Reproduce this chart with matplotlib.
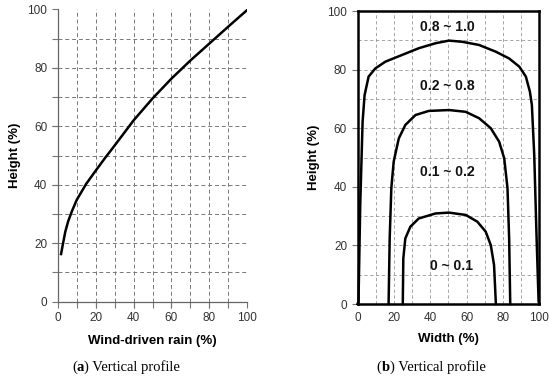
import matplotlib
matplotlib.use("Agg")
import matplotlib.pyplot as plt

# (a) wind-driven rain vertical profile
rain_x = [1.75, 2.8, 4.0, 5.5, 7.5, 10.0, 15.0, 20.0, 25.0, 30.0, 40.0, 50.0, 60.0, 70.0, 80.0, 90.0, 100.0]
rain_h = [16.3, 20.0, 24.0, 27.5, 31.0, 34.8, 40.3, 44.8, 49.2, 53.4, 62.0, 69.5, 76.3, 82.5, 88.3, 94.1, 99.8]

# (b) contour boundaries
outer_x = [0.0, 0.55, 1.5, 2.8, 3.9, 6.1, 9.8, 15.3, 24.5, 33.7, 42.9, 50.3, 57.6, 66.9, 76.1, 83.4,
           89.0, 92.6, 94.8, 95.9, 97.2, 98.5, 99.6, 100.0]
outer_y = [0.0, 0.8, 33.8, 62.2, 71.3, 77.6, 80.4, 82.7, 85.0, 87.3, 89.0, 89.9, 89.5, 88.4, 86.1, 83.8,
           81.0, 77.6, 72.5, 67.9, 50.9, 22.4, 0.8, 0.0]
mid_x = [17.1, 17.7, 18.6, 19.9, 22.7, 26.3, 31.9, 39.2, 50.3, 59.5, 66.9, 73.3, 77.9, 80.7, 82.5, 83.4, 84.0]
mid_y = [0.0, 22.4, 39.5, 48.6, 56.5, 61.1, 64.5, 65.9, 66.2, 65.6, 63.4, 60.0, 55.4, 49.7, 39.5, 22.4, 0.0]
inner_x = [24.9, 25.2, 26.3, 29.1, 33.7, 42.9, 50.3, 59.5, 65.9, 70.5, 73.3, 75.1, 76.1]
inner_y = [0.0, 15.6, 22.4, 26.4, 29.2, 30.9, 31.2, 30.4, 28.1, 24.7, 20.1, 13.3, 0.0]
zone_labels = ["0.8 ~ 1.0", "0.2 ~ 0.8", "0.1 ~ 0.2", "0 ~ 0.1"]
zone_pos = [(49.5, 94.6), (49.5, 74.4), (49.5, 45.0), (51.5, 13.0)]

ticks = [0, 20, 40, 60, 80, 100]
minor = list(range(10, 100, 10))

plt.rcParams['font.family'] = ['Liberation Sans', 'DejaVu Sans']
fig = plt.figure(figsize=(5.5, 3.77), dpi=100)

tick_col = '#333333'
grid_col = '#777777'

def setup(ax, spine_col, spine_w, gcol, gw):
    ax.set_xlim(0, 100)
    ax.set_ylim(0, 100)
    ax.xaxis.remove_overlapping_locs = False
    ax.yaxis.remove_overlapping_locs = False
    ax.set_xticks(ticks)
    ax.set_yticks(ticks)
    ax.set_xticks(minor, minor=True)
    ax.set_yticks(minor, minor=True)
    ax.tick_params(axis='both', which='both', direction='out', colors=grid_col,
                   labelcolor=tick_col, labelsize=8.5, length=4, width=0.8)
    ax.grid(False, which='major')
    ax.grid(True, which='minor', linestyle=(0, (4, 3)), color=gcol, linewidth=gw)
    for s in ax.spines.values():
        s.set_color(spine_col)
        s.set_linewidth(spine_w)
    ax.set_ylabel("Height (%)", fontsize=9.5, fontweight='bold', labelpad=5)
    ax.set_axisbelow(True)

# left
axa = fig.add_axes([0.105, 0.1997, 0.3446, 0.7756])
setup(axa, '#666666', 0.9, grid_col, 0.7)
axa.spines['top'].set_visible(False)
axa.spines['right'].set_visible(False)
axa.plot(rain_x, rain_h, color='black', linewidth=1.8)
axa.set_xlabel("Wind-driven rain (%)", fontsize=9.5, fontweight='bold', labelpad=8)

# right
axb = fig.add_axes([0.650, 0.1936, 0.3306, 0.7772])
setup(axb, 'black', 1.8, '#999999', 0.6)
axb.tick_params(axis='x', which='both', length=0, pad=6)
axb.tick_params(axis='y', which='minor', length=0)
for xs, ys in [(outer_x, outer_y), (mid_x, mid_y), (inner_x, inner_y)]:
    axb.plot(xs, ys, color='black', linewidth=1.8, clip_on=False, solid_joinstyle='round')
for lab, (x, y) in zip(zone_labels, zone_pos):
    axb.text(x, y, lab, ha='center', va='center', fontsize=10, fontweight='bold', color='#111111')
axb.set_xlabel("Width (%)", fontsize=9.5, fontweight='bold', labelpad=6)

# captions
serif = ['Liberation Serif', 'DejaVu Serif']
def caption(x, letter):
    t1 = fig.text(x, 0.027, "(", ha='left', va='center', fontsize=10.5, family=serif)
    a2 = axa.annotate(letter, xy=(1, 0), xycoords=t1, va='bottom', ha='left', fontsize=10.5,
                      fontweight='bold', family=serif, annotation_clip=False)
    axa.annotate(") Vertical profile", xy=(1, 0), xycoords=a2, va='bottom', ha='left',
                 fontsize=10.5, family=serif, annotation_clip=False)

caption(0.131, "a")
caption(0.685, "b")

fig.savefig("out.png", dpi=100)
